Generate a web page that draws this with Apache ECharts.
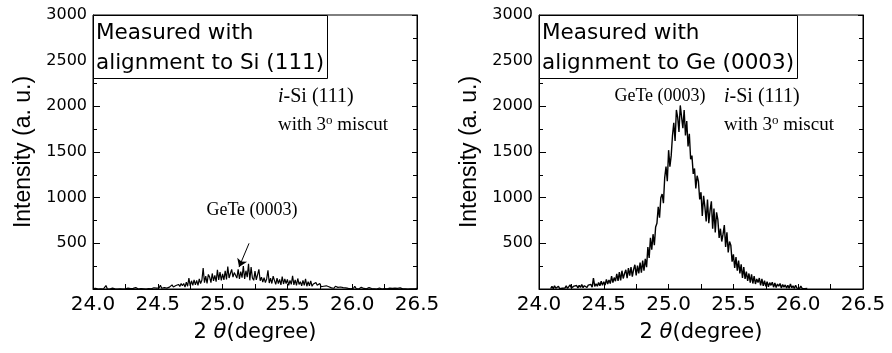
<!DOCTYPE html>
<html>
<head>
<meta charset="utf-8">
<script src="https://cdn.jsdelivr.net/npm/echarts@6/dist/echarts.min.js"></script>
<style>
  html, body { margin: 0; padding: 0; background: #fff; }
  #chart { width: 892px; height: 353px; }
</style>
</head>
<body>
<div id="chart"></div>
<script>
// XRD scans of GeTe on i-Si (111), 3° miscut: intensity vs 2θ, sampled every 0.01°.
const scanStep = 0.01;

// Scan aligned to Si (111): starts at 24.00°
const siScanStart = 24.00;
const siAlignedCounts = [
  4, 0, 8, 2, 0, 6, 1, 3, 0, 5,
  38, 2, 6, 0, 4, 10, 0, 3, 7, 0,
  5, 2, 12, 0, 6, 3, 0, 9, 2, 4,
  0, 7, 3, 15, 2, 0, 8, 4, 11, 2,
  6, 0, 10, 4, 18, 3, 8, 14, 5, 10,
  30, 12, 40, 8, 25, 15, 35, 10, 28, 20,
  18, 45, 22, 12, 38, 20, 50, 28, 60, 35,
  60, 20, 75, 30, 120, 35, 90, 40, 100, 45,
  95, 40, 110, 60, 95, 230, 70, 140, 60, 160,
  130, 70, 170, 90, 150, 80, 210, 100, 185, 95,
  165, 100, 200, 105, 245, 120, 170, 215, 130, 180,
  200, 120, 215, 110, 190, 125, 250, 110, 200, 130,
  275, 95, 240, 120, 95, 195, 100, 80, 215, 90,
  130, 75, 125, 70, 110, 205, 65, 120, 60, 140,
  95, 50, 120, 60, 105, 45, 135, 55, 110, 60,
  105, 40, 95, 50, 145, 45, 100, 40, 115, 50,
  80, 35, 95, 40, 110, 30, 80, 35, 90, 30,
  55, 35, 70, 40, 30, 60, 25, 45, 30, 20,
  35, 15, 25, 40, 12, 20, 8, 30, 10, 18,
  5, 22, 10, 15, 3, 12, 25, 6, 14, 2,
  20, 8, 30, 5, 12, 0, 9, 18, 3, 6,
  10, 2, 7, 15, 0, 5, 12, 3, 8, 0,
  6, 11, 2, 0, 8, 4, 14, 1, 5, 9,
  0, 7, 3, 10, 2, 6, 0, 12, 4, 1,
  8, 2, 5, 0, 10, 3, 7, 1, 15, 4, 6
];

// Scan aligned to GeTe (0003): starts at 24.09°
const geScanStart = 24.09;
const geAlignedCounts = [
  5, 28, 4, 35, 8, 15, 30, 3, 22, 8, 26,
  10, 34, 6, 22, 45, 12, 8, 32, 15, 38,
  12, 40, 18, 50, 14, 36, 55, 16, 42, 24,
  50, 20, 120, 28, 58, 30, 72, 36, 85, 40,
  80, 42, 105, 55, 100, 60, 140, 70, 125, 85,
  165, 90, 185, 95, 200, 115, 170, 210, 120, 230,
  145, 240, 135, 215, 265, 150, 255, 170, 290, 180,
  310, 200, 330, 240, 460, 340, 560, 430, 600, 480,
  680, 720, 900, 780, 1000, 1040, 940, 1220, 1340, 1180,
  1520, 1340, 1460, 1680, 1820, 1620, 1960, 1880, 1720, 2010,
  1990, 1760, 1960, 1680, 1840, 1560, 1700, 1420, 1460, 1260,
  1320, 1100, 1240, 1180, 980, 1060, 800, 1020, 900, 740,
  980, 720, 860, 960, 660, 880, 620, 840, 760, 560,
  660, 520, 600, 700, 460, 620, 400, 520, 480, 300,
  380, 230, 350, 200, 310, 170, 270, 120, 240, 110,
  190, 90, 170, 70, 160, 60, 140, 55, 110, 70,
  120, 40, 110, 35, 90, 30, 80, 25, 70, 40,
  75, 20, 65, 15, 55, 30, 60, 10, 50, 20,
  45, 10, 40, 8, 55, 12, 35, 5, 42, 10,
  28, 4, 32, 6, 22, 2, 16, 5
];

// Axis ranges and tick settings
const xRange = [24.0, 26.5];
const xInterval = 0.5;
const yRange = [0, 3000];
const yInterval = 500;

// Panel captions
const panelTitles = ['Measured with\nalignment to Si (111)', 'Measured with\nalignment to Ge (0003)'];

// GeTe (0003) pointer in the Si-aligned panel, in data coordinates [2θ, intensity]
const arrowFrom = [25.204, 500];
const arrowTo = [25.127, 240];

function toPairs(start, counts) {
  return counts.map((v, i) => [Number((start + i * scanStep).toFixed(2)), v]);
}

const sansWide = 'DejaVu Sans';
const sans = 'Liberation Sans';
const serif = 'Liberation Serif';

function makeX(gridIndex) {
  return {
    type: 'value', gridIndex,
    min: xRange[0], max: xRange[1], interval: xInterval,
    axisLine: { show: true, lineStyle: { color: '#000', width: 1 } },
    axisTick: { show: true, inside: true, length: 5, lineStyle: { color: '#000' } },
    minorTick: { show: true, splitNumber: 2, length: 5, lineStyle: { color: '#000' } },
    splitLine: { show: false },
    axisLabel: {
      color: '#000', fontFamily: sansWide, fontSize: 20, margin: 6,
      formatter: v => v.toFixed(1)
    },
    name: '{n|2 }{t|θ}{n|(degree)}',
    nameLocation: 'middle', nameGap: 33,
    nameTextStyle: {
      rich: {
        n: { fontFamily: sansWide, fontSize: 21, color: '#000' },
        t: { fontFamily: sansWide, fontSize: 21, fontStyle: 'italic', color: '#000' }
      }
    }
  };
}

function makeY(gridIndex, side) {
  const left = side === 'left';
  return {
    type: 'value', gridIndex, position: side,
    min: yRange[0], max: yRange[1], interval: yInterval,
    axisLine: { show: true, lineStyle: { color: '#000', width: 1 } },
    axisTick: { show: true, inside: true, length: left ? 7 : 5, lineStyle: { color: '#000' } },
    minorTick: { show: true, splitNumber: 2, length: 4, lineStyle: { color: '#000' } },
    splitLine: { show: false },
    axisLabel: {
      show: left, color: '#000', fontFamily: sansWide, fontSize: 16, margin: 6,
      formatter: v => (v === 0 ? '' : String(v))
    },
    name: left ? 'Intensity (a. u.)' : '',
    nameLocation: 'middle', nameGap: 58, nameRotate: 90,
    nameTextStyle: { fontFamily: sans, fontSize: 23, color: '#000' }
  };
}

const grids = [
  { left: 93, top: 15, width: 324, height: 274, show: true, borderColor: '#000', borderWidth: 1, backgroundColor: 'transparent' },
  { left: 539, top: 15, width: 324, height: 274, show: true, borderColor: '#000', borderWidth: 1, backgroundColor: 'transparent' }
];

const captionStyle = { fontFamily: sansWide, fontSize: 21.5, lineHeight: 30, color: '#000', fontWeight: 'normal' };

function caption(text, left) {
  return {
    text, left, top: 15,
    borderColor: '#000', borderWidth: 1, backgroundColor: '#fff',
    padding: [3, 4, 1, 3],
    textStyle: captionStyle
  };
}

const serifRich = {
  it: { fontFamily: serif, fontSize: 20, fontStyle: 'italic', fill: '#000' },
  r20: { fontFamily: serif, fontSize: 20, fill: '#000' },
  r19: { fontFamily: serif, fontSize: 19, fill: '#000' },
  sup: { fontFamily: serif, fontSize: 13, fill: '#000', padding: [0, 0, 9, 0] }
};

function substrateLabel(x) {
  return [
    {
      type: 'text', x, y: 97,
      style: { text: '{it|i}{r20|-Si (111)}', rich: serifRich, textVerticalAlign: 'middle', textAlign: 'left' }
    },
    {
      type: 'text', x, y: 125,
      style: { text: '{r19|with 3}{sup|o}{r19|\u00a0miscut}', rich: serifRich, textVerticalAlign: 'middle', textAlign: 'left' }
    }
  ];
}

function peakLabel(x, y) {
  return {
    type: 'text', x, y,
    style: { text: 'GeTe (0003)', font: '18px "Liberation Serif"', fill: '#000', textAlign: 'center', textVerticalAlign: 'middle' }
  };
}

const chart = echarts.init(document.getElementById('chart'), null, { renderer: 'canvas' });
chart.setOption({
  animation: false,
  backgroundColor: '#fff',
  title: [caption(panelTitles[0], 93), caption(panelTitles[1], 539)],
  grid: grids,
  xAxis: [makeX(0), makeX(1)],
  yAxis: [makeY(0, 'left'), makeY(0, 'right'), makeY(1, 'left'), makeY(1, 'right')],
  series: [
    {
      type: 'line', xAxisIndex: 0, yAxisIndex: 0,
      data: toPairs(siScanStart, siAlignedCounts),
      showSymbol: false, symbol: 'none',
      lineStyle: { color: '#000', width: 1.2 },
      markLine: {
        silent: true, symbol: ['none', 'arrow'], symbolSize: 8,
        label: { show: false },
        lineStyle: { color: '#000', width: 1, type: 'solid' },
        data: [[{ coord: arrowFrom }, { coord: arrowTo }]]
      }
    },
    {
      type: 'line', xAxisIndex: 1, yAxisIndex: 2,
      data: toPairs(geScanStart, geAlignedCounts),
      showSymbol: false, symbol: 'none',
      lineStyle: { color: '#000', width: 1.4 }
    }
  ],
  graphic: [
    ...substrateLabel(278),
    ...substrateLabel(724),
    peakLabel(252, 210),
    peakLabel(660, 96)
  ]
});
</script>
</body>
</html>
